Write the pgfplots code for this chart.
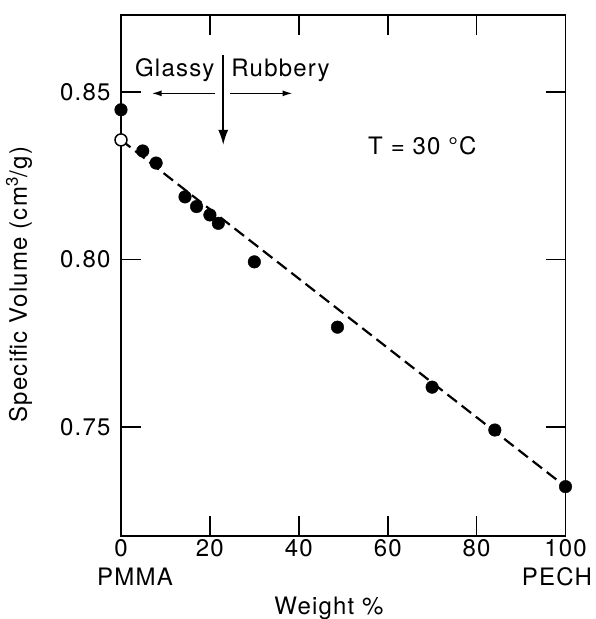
\documentclass[border=0pt]{standalone}
\usepackage{fontspec}
\setmainfont[LetterSpace=5]{TeX Gyre Heros}
\usepackage{pgfplots}
\pgfplotsset{compat=1.18}
\usetikzlibrary{arrows.meta}
\newcommand\lbl{\fontsize{24}{28}\selectfont}
\begin{document}
\begin{tikzpicture}
\begin{axis}[
  scale only axis, width=444.5pt, height=521pt,
  xmin=0, xmax=100, ymin=0.71746, ymax=0.87299,
  xtick={0,20,40,60,80,100},
  ytick={0.75,0.80,0.85}, yticklabels={0.75,0.80,0.85},
  tick align=inside, xtick pos=both, ytick pos=both,
  xticklabel pos=lower, yticklabel pos=left,
  tickwidth=20pt, major tick length=20pt,
  every tick/.style={line width=1.6pt, black},
  axis line style={line width=1.8pt},
  tick label style={font=\lbl},
  yticklabel style={xshift=-7pt},
  /pgf/number format/assume math mode=true,
  clip=false,
]
\addplot[line width=2.2pt, dash pattern=on 12pt off 6pt] coordinates {(0,0.8357) (100,0.7322)};
\addplot[only marks, mark=*, mark size=6.3pt, black] coordinates {
  (0,0.8447) (4.9,0.8324) (7.9,0.8288) (14.4,0.8187) (17.0,0.8158)
  (20.0,0.8133) (21.9,0.8108) (30.0,0.7993) (48.7,0.7798)
  (70.0,0.7619) (84.1,0.7491) (100,0.7322)};
\addplot[only marks, mark=*, mark size=6pt, mark options={fill=white, draw=black, line width=1.5pt}] coordinates {(0,0.8357)};
\draw[line width=1.6pt, -{Latex[length=15pt,width=10pt]}] (axis cs:23,0.8610) -- (axis cs:23,0.8342);
\draw[line width=1.5pt, -{Latex[length=10pt,width=6pt]}] (axis cs:21.1,0.8496) -- (axis cs:6.9,0.8496);
\draw[line width=1.5pt, -{Latex[length=10pt,width=6pt]}] (axis cs:24.5,0.8496) -- (axis cs:38.6,0.8496);
\node[font=\lbl, anchor=base] at (axis cs:12.1,0.8545) {Glassy};
\node[font=\lbl, anchor=base] at (axis cs:35.9,0.8545) {Rubbery};
\node[font=\lbl, anchor=base] at (axis cs:67.8,0.8312) {T = 30 °C};
\end{axis}
\node[font=\lbl, anchor=base] at (14pt,-49pt) {PMMA};
\node[font=\lbl, anchor=base] at (436pt,-49pt) {PECH};
\node[font=\lbl, anchor=base] at (208pt,-78pt) {Weight \%};
\node[font=\lbl, anchor=base, rotate=90] at (-94pt,251.5pt) {Specific Volume (cm\textsuperscript{3}/g)};
\pgfresetboundingbox
\path[use as bounding box] (-121pt,-83pt) rectangle (474pt,536pt);
\end{tikzpicture}
\end{document}
